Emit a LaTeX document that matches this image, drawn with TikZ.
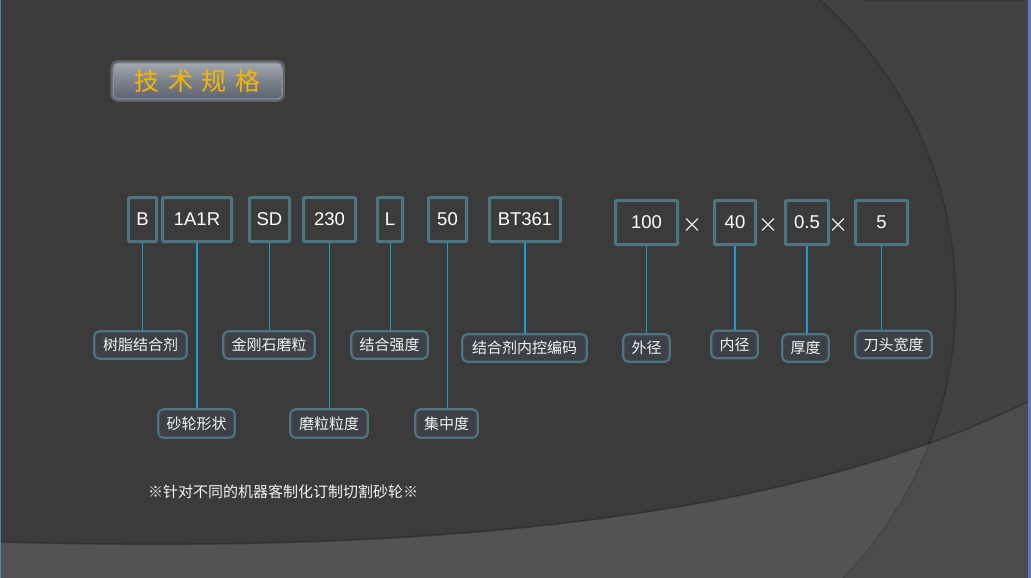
\documentclass[tikz,border=0pt]{standalone}
\usepackage{fontspec}
\setmainfont{Liberation Sans}
\newfontfamily\cjk{Noto Sans CJK SC}
\usetikzlibrary{calc}
\definecolor{bgdark}{HTML}{3B3B3B}
\definecolor{bglight}{HTML}{424242}
\definecolor{band}{HTML}{535353}
\definecolor{bandright}{HTML}{4C4C4C}
\definecolor{boxc}{HTML}{4E7381}
\definecolor{labfill}{HTML}{3D4046}
\definecolor{connc}{HTML}{1E9AD2}
\definecolor{gold}{HTML}{F7B500}
\definecolor{edgeblue}{HTML}{5B7FB5}
\definecolor{ttop}{HTML}{A2A7AF}
\definecolor{tmid}{HTML}{7C828C}
\definecolor{tbot}{HTML}{5C6370}
\definecolor{tborder}{HTML}{8190A6}
\tikzset{
  codebox/.style={draw=boxc, line width=3pt, text=white, inner sep=0pt,
    minimum height=44pt, rounded corners=1pt,
    font=\fontsize{18.5}{22}\selectfont},
  labbox/.style={draw=boxc, line width=2.2pt, fill=labfill, text=white!95!black,
    inner sep=0pt, minimum height=27.5pt, rounded corners=5pt,
    font=\cjk\fontsize{15}{18}\selectfont},
  conn/.style={draw=connc, line width=1.2pt},
  connthin/.style={draw=connc, line width=0.8pt},
  timesign/.style={text=white!92!black, inner sep=0pt, font=\cjk\fontsize{20}{24}\selectfont}
}
\begin{document}
\begin{tikzpicture}[x=1pt,y=-1pt]
\useasboundingbox (0,0) rectangle (1031,578);
% background
\fill[bgdark] (0,0) rectangle (1031,578);
\begin{scope}
  \clip (556.5,-10) rectangle (1040,590);
  \fill[bglight, even odd rule] (-10,-10) rectangle (1040,590) (556.5,300) circle[radius=399.3pt];
  \draw[black, opacity=0.18, line width=1.5pt] (556.5,300) circle[radius=399.3pt];
\end{scope}
% bottom band
\fill[band] (0,542) .. controls (450,555) and (800,515) .. (1031,400) -- (1031,578) -- (0,578) -- cycle;
\begin{scope}
  \clip (0,542) .. controls (450,555) and (800,515) .. (1031,400) -- (1031,578) -- (0,578) -- cycle;
  \clip (556.5,-10) rectangle (1040,590);
  \fill[bandright, even odd rule] (-10,-10) rectangle (1040,590) (556.5,300) circle[radius=399.3pt];
  \draw[black, opacity=0.15, line width=1.2pt] (556.5,300) circle[radius=399.3pt];
\end{scope}
\draw[black, opacity=0.25, line width=1.5pt] (0,542) .. controls (450,555) and (800,515) .. (1031,400);
% edges
\fill[edgeblue] (0,0) rectangle (1.4,578);
\fill[edgeblue] (1027.8,0) rectangle (1031,578);
\draw[black!80, opacity=0.6, line width=1pt] (863,0.5) -- (1027.8,0.5);
% title
\node[draw=white!40!bgdark, line width=2.5pt, opacity=0.5, rounded corners=6pt, minimum width=172pt, minimum height=39pt, inner sep=0pt] (tglow) at (197.7,81) {};
\node[draw=tborder, line width=1.2pt, rounded corners=5pt, minimum width=169pt, minimum height=36pt, inner sep=0pt,
  top color=ttop, bottom color=tbot, middle color=tmid,
  text=gold, font=\cjk\fontsize{25}{30}\selectfont] (title) at (197.7,81)
  {技\hspace{8.5pt}术\hspace{8.5pt}规\hspace{8.5pt}格};
% code boxes row
\node[codebox, minimum width=28pt] (cB) at (142.5,219.5) {B};
\node[codebox, minimum width=69pt] (c1A1R) at (197,219.5) {1A1R};
\node[codebox, minimum width=40pt] (cSD) at (269.5,219.5) {SD};
\node[codebox, minimum width=52pt] (c230) at (329.5,219.5) {230};
\node[codebox, minimum width=25pt] (cL) at (390,219.5) {L};
\node[codebox, minimum width=38pt] (c50) at (447.5,219.5) {50};
\node[codebox, minimum width=71pt] (cBT) at (525,219.5) {BT361};
\node[codebox, minimum width=62pt] (c100) at (646.5,222.5) {100};
\node[codebox, minimum width=41pt] (c40) at (735,222.5) {40};
\node[codebox, minimum width=43pt] (c05) at (807,222.5) {0.5};
\node[codebox, minimum width=52pt] (c5) at (881.5,222.5) {5};
\node[timesign] (x1) at (692.7,226) {×};
\node[timesign] (x2) at (768,226) {×};
\node[timesign] (x3) at (838.5,226) {×};
% labels
\node[labbox, minimum width=92.5pt] (lB) at (140.5,345) {树脂结合剂};
\node[labbox, minimum width=91.5pt] (lSD) at (269,345) {金刚石磨粒};
\node[labbox, minimum width=76.5pt] (lL) at (389.5,345) {结合强度};
\node[labbox, minimum width=124.5pt] (lBT) at (524.5,348) {结合剂内控编码};
\node[labbox, minimum width=76.5pt, minimum height=28.5pt] (l1A1R) at (196.5,423.5) {砂轮形状};
\node[labbox, minimum width=77.5pt, minimum height=28.5pt] (l230) at (329,423.5) {磨粒粒度};
\node[labbox, minimum width=62.5pt, minimum height=28.5pt] (l50) at (446.5,423.5) {集中度};
\node[labbox, minimum width=46.5pt] (l100) at (646.5,348) {外径};
\node[labbox, minimum width=46.5pt] (l40) at (734.5,344.5) {内径};
\node[labbox, minimum width=46.5pt] (l05) at (805.5,348) {厚度};
\node[labbox, minimum width=76.5pt] (l5) at (893.5,344.5) {刀头宽度};
% connectors
\draw[connthin] (cB.south) -- (cB.south |- lB.north);
\draw[conn] (c1A1R.south) -- (c1A1R.south |- l1A1R.north);
\draw[connthin] (cSD.south) -- (cSD.south |- lSD.north);
\draw[conn] (c230.south) -- (c230.south |- l230.north);
\draw[connthin] (cL.south) -- (cL.south |- lL.north);
\draw[conn] (c50.south) -- (c50.south |- l50.north);
\draw[conn] (cBT.south) -- (cBT.south |- lBT.north);
\draw[conn] (c100.south) -- (c100.south |- l100.north);
\draw[conn] (c40.south) -- (c40.south |- l40.north);
\draw[conn] (c05.south) -- (c05.south |- l05.north);
\draw[connthin] (c5.south) -- (c5.south |- l5.north);
% note
\node[text=white!95!black, inner sep=0pt, font=\cjk\fontsize{15}{18}\selectfont] (note) at (283,491.7)
  {※针对不同的机器客制化订制切割砂轮※};
\end{tikzpicture}
\end{document}
